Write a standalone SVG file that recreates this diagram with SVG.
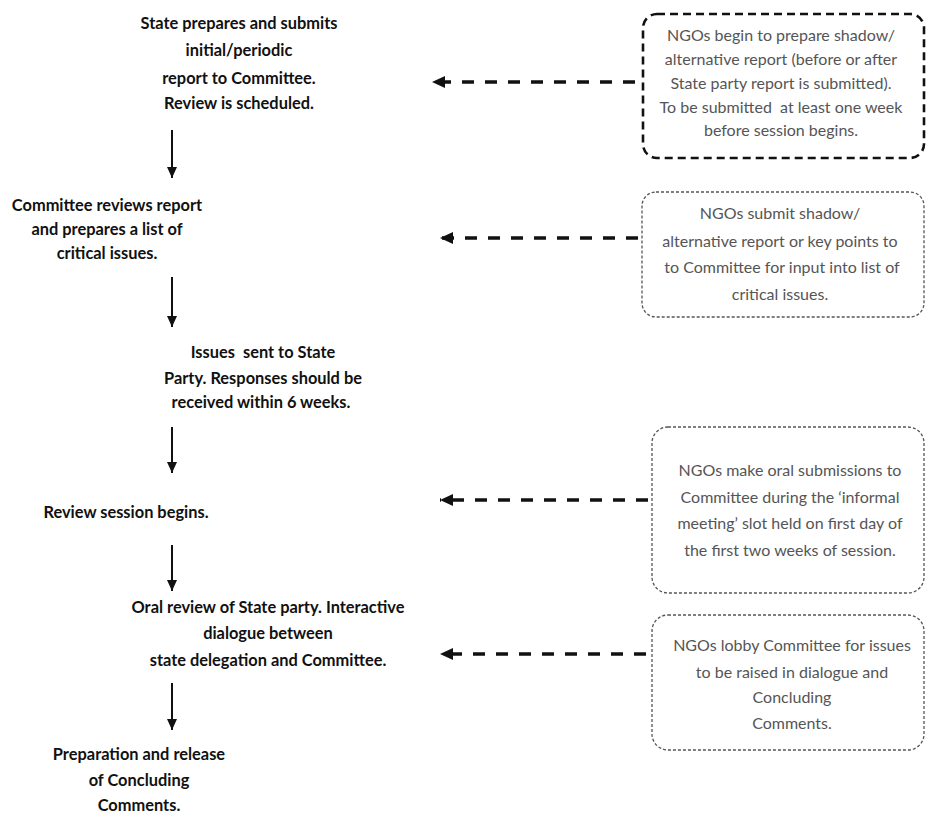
<svg xmlns="http://www.w3.org/2000/svg" width="927" height="816" viewBox="0 0 927 816">
<style>
.step{font-family:Lato,"Open Sans","Liberation Sans",sans-serif;font-weight:bold;font-size:16.4px;fill:#111;text-anchor:middle;white-space:pre}
.ngo{font-family:Lato,"Open Sans","Liberation Sans",sans-serif;font-size:16px;fill:#555;text-anchor:middle;white-space:pre}
.box{fill:#fff;stroke:#555;stroke-width:1.3;stroke-dasharray:3 2}
.boxbold{fill:#fff;stroke:#111;stroke-width:2.6;stroke-dasharray:8 5}
.down{stroke:#111;stroke-width:2;fill:none}
.dash{stroke:#111;stroke-width:3.5;stroke-dasharray:12 11;fill:none}
</style>
<defs>
<marker id="ah" markerUnits="userSpaceOnUse" markerWidth="12" markerHeight="12" viewBox="0 0 12 12" refX="11" refY="6" orient="auto">
<path d="M0,1 L11,6 L0,11 Z" fill="#111"/>
</marker>
<marker id="ah2" markerUnits="userSpaceOnUse" markerWidth="14" markerHeight="14" viewBox="0 0 14 14" refX="13" refY="7" orient="auto">
<path d="M0,1 L13,7 L0,13 Z" fill="#111"/>
</marker>
</defs>
<rect width="927" height="816" fill="#fff"/>

<g id="connectors">
<line class="down" x1="172" y1="130" x2="172" y2="178" marker-end="url(#ah)"/>
<line class="down" x1="172" y1="277" x2="172" y2="327" marker-end="url(#ah)"/>
<line class="down" x1="172" y1="427" x2="172" y2="473" marker-end="url(#ah)"/>
<line class="down" x1="172" y1="545" x2="172" y2="591" marker-end="url(#ah)"/>
<line class="down" x1="172" y1="683" x2="172" y2="730" marker-end="url(#ah)"/>
<line class="dash" x1="635" y1="82" x2="432" y2="82" marker-end="url(#ah2)"/>
<line class="dash" x1="638" y1="238" x2="440" y2="238" marker-end="url(#ah2)"/>
<line class="dash" x1="648" y1="500" x2="440" y2="500" marker-end="url(#ah2)"/>
<line class="dash" x1="646" y1="654" x2="440" y2="654" marker-end="url(#ah2)"/>
</g>

<g id="step1">
<text class="step" x="239" y="29">State prepares and submits</text>
<text class="step" x="239" y="56">initial/periodic</text>
<text class="step" x="239" y="84">report to Committee.</text>
<text class="step" x="239" y="109">Review is scheduled.</text>
</g>
<g id="step2">
<text class="step" x="107" y="211">Committee reviews report</text>
<text class="step" x="107" y="235">and prepares a list of</text>
<text class="step" x="107" y="259">critical issues.</text>
</g>
<g id="step3">
<text class="step" x="263" y="358">Issues  sent to State</text>
<text class="step" x="263" y="384">Party. Responses should be</text>
<text class="step" x="261" y="408">received within 6 weeks.</text>
</g>
<g id="step4">
<text class="step" x="126" y="518">Review session begins.</text>
</g>
<g id="step5">
<text class="step" x="268" y="613">Oral review of State party. Interactive</text>
<text class="step" x="268" y="639">dialogue between</text>
<text class="step" x="268" y="666">state delegation and Committee.</text>
</g>
<g id="step6">
<text class="step" x="139" y="760">Preparation and release</text>
<text class="step" x="139" y="786">of Concluding</text>
<text class="step" x="139" y="811">Comments.</text>
</g>

<g id="ngo1">
<rect class="boxbold" x="643" y="14" width="281" height="144" rx="14"/>
<text class="ngo" x="781" y="41">NGOs begin to prepare shadow/</text>
<text class="ngo" x="781" y="65">alternative report (before or after</text>
<text class="ngo" x="781" y="89">State party report is submitted).</text>
<text class="ngo" x="781" y="113">To be submitted  at least one week</text>
<text class="ngo" x="781" y="136">before session begins.</text>
</g>
<g id="ngo2">
<rect class="box" x="642" y="192" width="282" height="125" rx="14"/>
<text class="ngo" x="780" y="219">NGOs submit shadow/</text>
<text class="ngo" x="780" y="247">alternative report or key points to</text>
<text class="ngo" x="782" y="273">to Committee for input into list of</text>
<text class="ngo" x="780" y="300">critical issues.</text>
</g>
<g id="ngo3">
<rect class="box" x="652" y="427" width="272" height="166" rx="16"/>
<text class="ngo" x="790" y="476">NGOs make oral submissions to</text>
<text class="ngo" x="790" y="503">Committee during the ‘informal</text>
<text class="ngo" x="790" y="529">meeting’ slot held on first day of</text>
<text class="ngo" x="790" y="556">the first two weeks of session.</text>
</g>
<g id="ngo4">
<rect class="box" x="652" y="615" width="272" height="135" rx="16"/>
<text class="ngo" x="792" y="651">NGOs lobby Committee for issues</text>
<text class="ngo" x="792" y="678">to be raised in dialogue and</text>
<text class="ngo" x="792" y="703">Concluding</text>
<text class="ngo" x="792" y="729">Comments.</text>
</g>
</svg>
